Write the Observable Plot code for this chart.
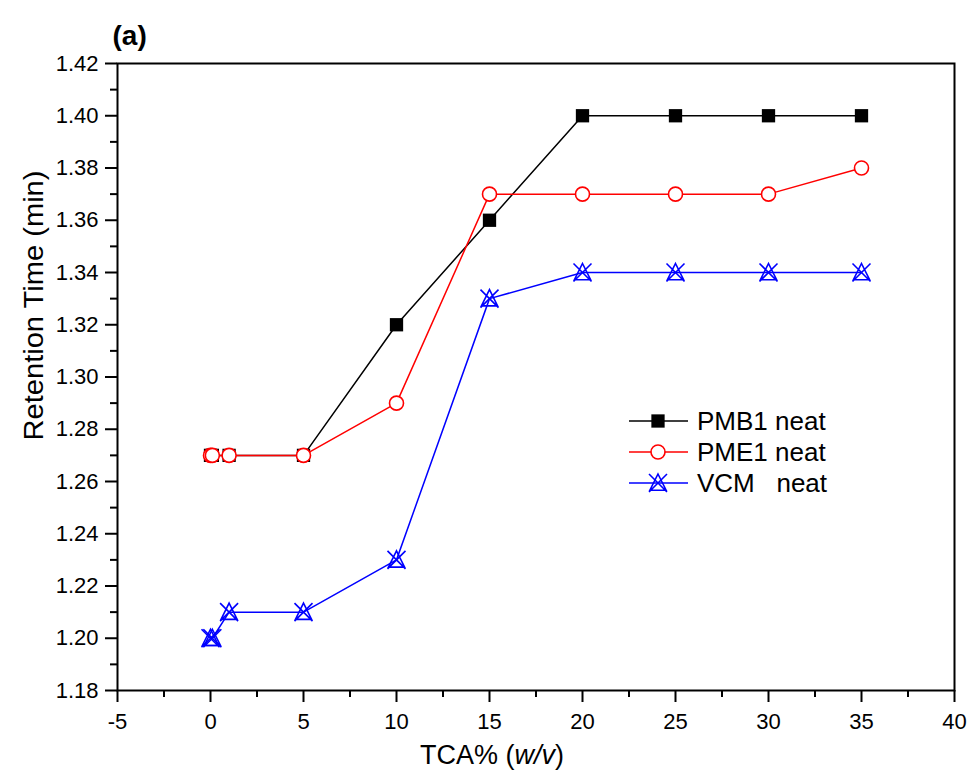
<!DOCTYPE html>
<html><head><meta charset="utf-8">
<script src="https://cdn.jsdelivr.net/npm/d3@7"></script>
<script src="https://cdn.jsdelivr.net/npm/@observablehq/plot@0.6"></script>
<style>
body{margin:0;background:#fff;}
#chart svg{display:block;background:#fff;}
</style></head><body>
<div id="chart"></div>
<script>
// ---- data ----
const tca  = [0, 0.1, 1, 5, 10, 15, 20, 25, 30, 35];
const pmb1 = [1.27, 1.27, 1.27, 1.27, 1.32, 1.36, 1.40, 1.40, 1.40, 1.40];
const pme1 = [1.27, 1.27, 1.27, 1.27, 1.29, 1.37, 1.37, 1.37, 1.37, 1.38];
const vcm  = [1.20, 1.20, 1.21, 1.21, 1.23, 1.33, 1.34, 1.34, 1.34, 1.34];
const seriesNames = ["PMB1 neat", "PME1 neat", "VCM   neat"];
const xTicks = [-5, 0, 5, 10, 15, 20, 25, 30, 35, 40];
const xMinor = [-2.5, 2.5, 7.5, 12.5, 17.5, 22.5, 27.5, 32.5, 37.5];
const yTicks = [1.18, 1.20, 1.22, 1.24, 1.26, 1.28, 1.30, 1.32, 1.34, 1.36, 1.38, 1.40, 1.42];
const yMinor = [1.19, 1.21, 1.23, 1.25, 1.27, 1.29, 1.31, 1.33, 1.35, 1.37, 1.39, 1.41];
const xLabel = "TCA% (w/v)";
const yLabel = "Retention Time (min)";
const panel = "(a)";

const font = '"Liberation Sans", Arial, Helvetica, sans-serif';
const tickFont = 22;

// custom symbol: open triangle overlaid with an X
const triX = {
  draw(ctx, size) {
    const r = Math.sqrt(size / Math.PI);
    ctx.moveTo(0, -r);
    ctx.lineTo(r * 0.9, r * 0.8);
    ctx.lineTo(-r * 0.9, r * 0.8);
    ctx.closePath();
    ctx.moveTo(-r, -r); ctx.lineTo(r, r);
    ctx.moveTo(r, -r); ctx.lineTo(-r, r);
  }
};

const mk = (vals, name) => tca.map((x, i) => ({x, y: vals[i], series: name}));
const dPMB = mk(pmb1, seriesNames[0]);
const dPME = mk(pme1, seriesNames[1]);
const dVCM = mk(vcm, seriesNames[2]);

const chart = Plot.plot({
  width: 974,
  height: 778,
  marginLeft: 117,
  marginRight: 20,
  marginTop: 63,
  marginBottom: 88,
  style: {fontFamily: font, fontSize: tickFont + "px", color: "#000", background: "#fff"},
  x: {domain: [-5, 40]},
  y: {domain: [1.18, 1.42]},
  marks: [
    Plot.axisX({ticks: xMinor, tickSize: 7, tickFormat: () => "", strokeWidth: 2, label: null}),
    Plot.axisX({ticks: xTicks, tickSize: 12, tickPadding: 11, strokeWidth: 2, label: null, fontSize: tickFont, tickFormat: d => String(d)}),
    Plot.axisY({ticks: yMinor, tickSize: 7, tickFormat: () => "", strokeWidth: 2, label: null}),
    Plot.axisY({ticks: yTicks, tickSize: 12, tickPadding: 7, strokeWidth: 2, label: null, fontSize: tickFont, tickFormat: d3.format(".2f")}),
    Plot.frame({stroke: "#000", strokeWidth: 2}),
    Plot.line(dPMB, {x: "x", y: "y", stroke: "#000", strokeWidth: 1.5}),
    Plot.dot(dPMB, {x: "x", y: "y", symbol: "square", r: 7.5, fill: "#000", stroke: "none"}),
    Plot.line(dPME, {x: "x", y: "y", stroke: "#ff0000", strokeWidth: 1.5}),
    Plot.dot(dPME, {x: "x", y: "y", symbol: "circle", r: 7, fill: "#fff", stroke: "#ff0000", strokeWidth: 1.6}),
    Plot.line(dVCM, {x: "x", y: "y", stroke: "#0000ff", strokeWidth: 1.5}),
    Plot.dot(dVCM, {x: "x", y: "y", symbol: triX, r: 9, fill: "none", stroke: "#0000ff", strokeWidth: 1.6}),
    Plot.text([yLabel], {frameAnchor: "top-left", dx: -94, dy: 242, rotate: -90, textAnchor: "middle", fontSize: 27, text: d => d}),
    Plot.text([xLabel], {frameAnchor: "bottom", dx: -44, dy: 73, textAnchor: "middle", fontSize: 27, text: d => d}),
    Plot.text([panel], {frameAnchor: "top-left", dx: -5, dy: -38, fontSize: 28, fontWeight: "bold", textAnchor: "start", text: d => d})
  ]
});
document.getElementById("chart").appendChild(chart);

const svg = d3.select(chart);
svg.selectAll('g[aria-label="x-axis tick label"], g[aria-label="y-axis tick label"]')
  .attr("font-size", tickFont).style("font-size", tickFont + "px");

svg.selectAll("text").filter(function(){ return this.textContent === yLabel; })
  .attr("textLength", 270).attr("lengthAdjust", "spacingAndGlyphs");
svg.selectAll("text").filter(function(){ return this.textContent === xLabel; }).each(function(){
  const t = d3.select(this);
  t.text(null);
  t.append("tspan").text("TCA% (");
  t.append("tspan").attr("font-style", "italic").text("w/v");
  t.append("tspan").text(")");
});

// legend
const legend = [
  {name: seriesNames[0], color: "#000", sym: d3.symbolSquare, size: 7.5*7.5*Math.PI, fill: "#000", stroke: "none"},
  {name: seriesNames[1], color: "#ff0000", sym: d3.symbolCircle, size: 7*7*Math.PI, fill: "#fff", stroke: "#ff0000"},
  {name: seriesNames[2], color: "#0000ff", sym: triX, size: 9*9*Math.PI, fill: "none", stroke: "#0000ff"}
];
const lg = svg.append("g").attr("font-family", font).attr("font-size", 26).attr("text-anchor", "start");
legend.forEach((d, i) => {
  const cy = 421 + i * 31;
  const g = lg.append("g").attr("transform", `translate(0,${cy})`);
  g.append("line").attr("x1", 629).attr("x2", 688).attr("y1", 0).attr("y2", 0)
    .attr("stroke", d.color).attr("stroke-width", 1.5);
  g.append("path").attr("transform", "translate(658,0)")
    .attr("d", d3.symbol(d.sym, d.size)())
    .attr("fill", d.fill).attr("stroke", d.stroke).attr("stroke-width", 1.6);
  g.append("text").attr("x", 697).attr("y", 0).attr("dy", "0.36em")
    .attr("text-anchor", "start").attr("fill", "#000")
    .style("white-space", "pre").text(d.name);
});
</script>
</body></html>
